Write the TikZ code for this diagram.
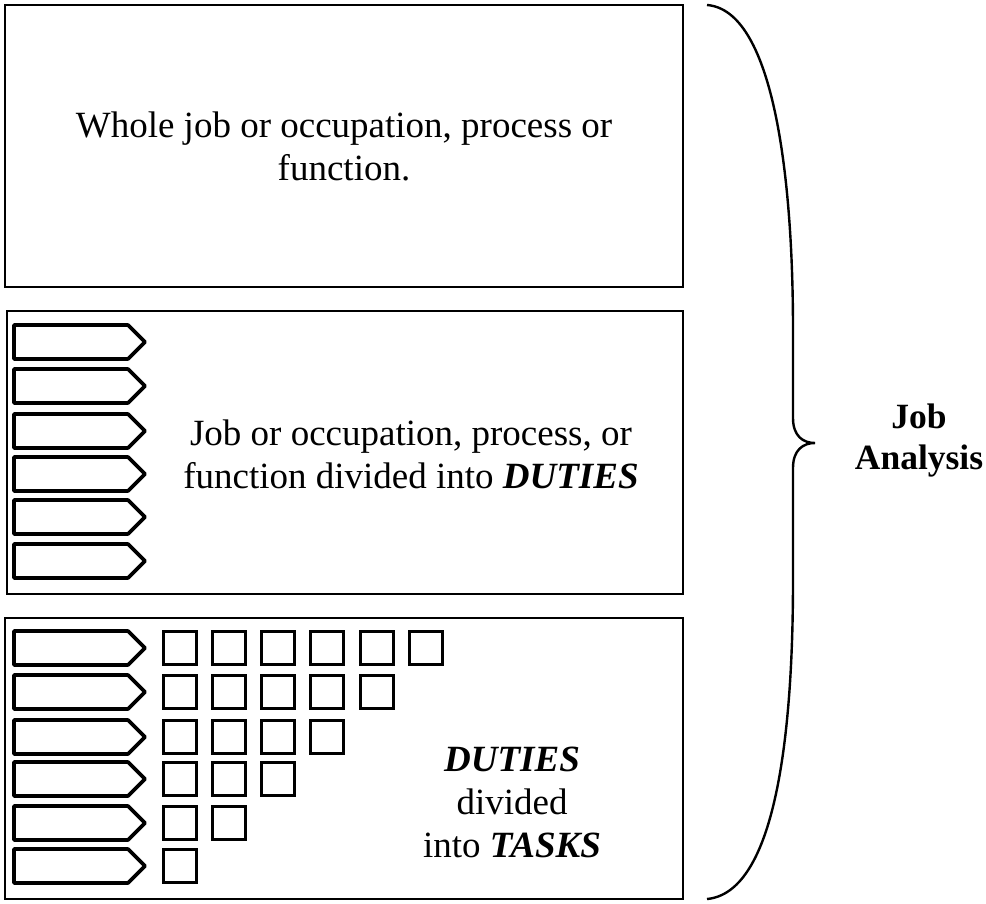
\documentclass[tikz,border=0pt]{standalone}
\usepackage{fontspec}
\setmainfont{Liberation Serif}
\begin{document}
\begin{tikzpicture}[x=1pt,y=-1pt,
  frame/.style={draw,line width=2.7pt},
  duty/.style={draw,line width=3.6pt,line join=round},
  task/.style={draw,line width=3pt},
  bigtxt/.style={font=\fontsize{37}{43}\selectfont,align=center,inner sep=0pt},
  lbl/.style={font=\fontsize{35.5}{41}\selectfont\bfseries,align=center,inner sep=0pt}]
\useasboundingbox (0,0) rectangle (986,903);
% boxes
\draw[frame] (5,5) rectangle (683,287);
\draw[frame] (7,311) rectangle (683,594);
\draw[frame] (5,618) rectangle (683,899);
\node[bigtxt] (t1) at (344,146) {Whole job or occupation, process or\\function.};
\node[bigtxt] (t2) at (411,454) {Job or occupation, process, or\\function divided into \textbf{\textit{DUTIES}}};
\node[bigtxt] (t3) at (512,802) {\textbf{\textit{DUTIES}}\\divided\\into \textbf{\textit{TASKS}}};
% duties in box 2
\foreach \c in {342,386,431,474,517,561}{
  \draw[duty] (14,\c-17) -- (128,\c-17) -- (145,\c) -- (128,\c+17) -- (14,\c+17) -- cycle;
}
% duties and tasks in box 3
\foreach \c [count=\r] in {648,692,737,779,823,866}{
  \draw[duty] (14,\c-17) -- (128,\c-17) -- (145,\c) -- (128,\c+17) -- (14,\c+17) -- cycle;
  \pgfmathtruncatemacro{\n}{7-\r}
  \foreach \k in {1,...,\n}{
    \draw[task] ({163+(\k-1)*49.3},\c-16.5) rectangle ++(33,33);
  }
}
% brace
\draw[line width=2.4pt] (707,5) .. controls (772,10) and (793,170) .. (793,330)
  -- (793,418) .. controls (793,436) and (803,443) .. (815,443)
  .. controls (803,443) and (793,450) .. (793,468)
  -- (793,580) .. controls (793,750) and (772,893) .. (707,899);
\node[lbl] (ja) at (919,441) {Job\\Analysis};
\end{tikzpicture}
\end{document}
